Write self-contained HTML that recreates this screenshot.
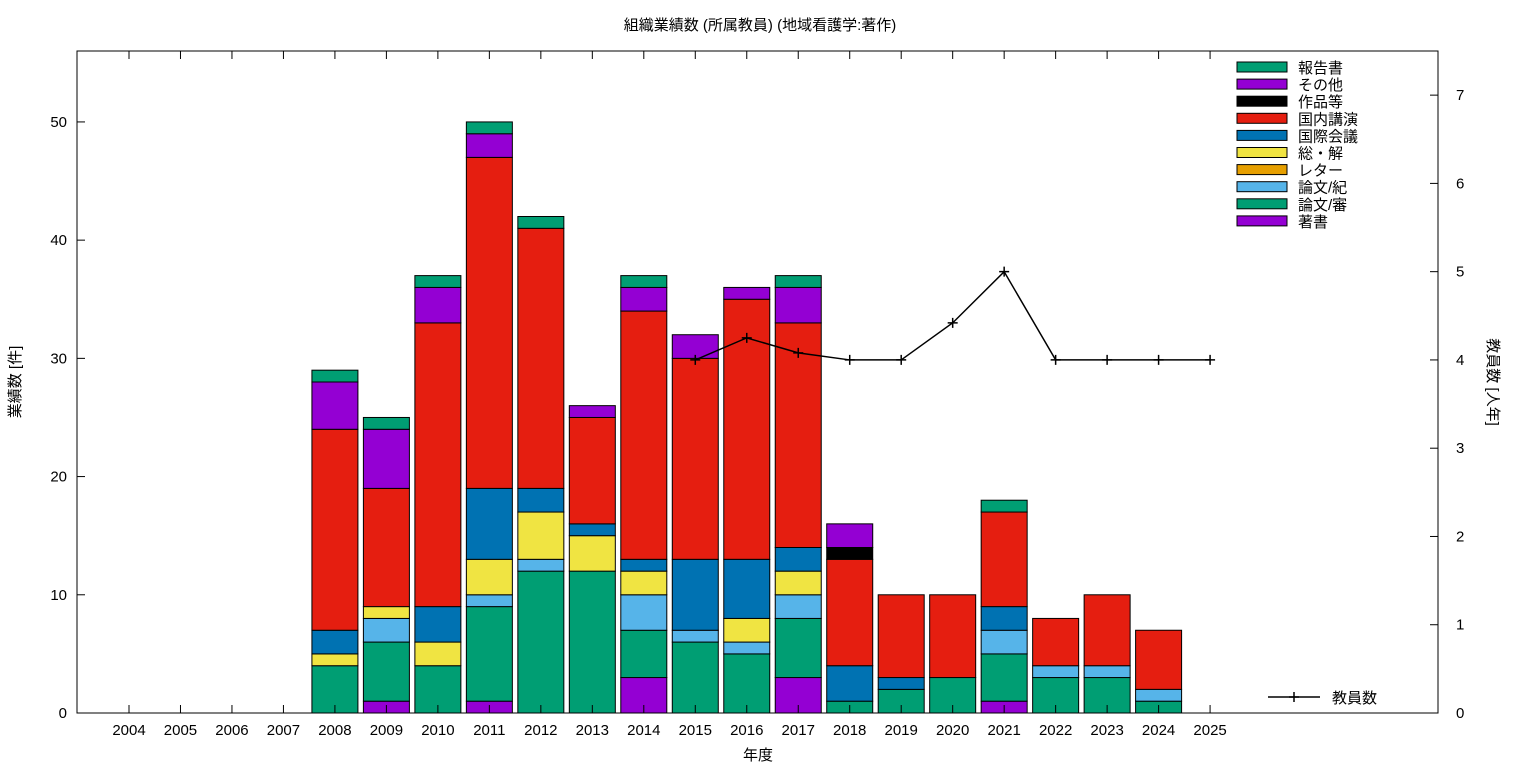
<!DOCTYPE html>
<html><head><meta charset="utf-8"><style>
body{margin:0;background:#fff}
svg text{font-family:"Liberation Sans","Noto Sans CJK JP",sans-serif;fill:#000}
</style></head><body>
<svg id="c" width="1536" height="768" viewBox="0 0 1536 768">
<text x="760" y="30" font-size="15" text-anchor="middle">組織業績数 (所属教員) (地域看護学:著作)</text>
<text x="758" y="760" font-size="15" text-anchor="middle">年度</text>
<text transform="translate(20,382) rotate(-90)" font-size="15" text-anchor="middle">業績数 [件]</text>
<text transform="translate(1488,382) rotate(90)" font-size="15" text-anchor="middle">教員数 [人年]</text>
<g id="bars"></g><g id="axes"></g><g id="legend"></g>
</svg>
<script>
const years=[2004,2005,2006,2007,2008,2009,2010,2011,2012,2013,2014,2015,2016,2017,2018,2019,2020,2021,2022,2023,2024,2025];
const seriesNames=["著書","論文/審","論文/紀","レター","総・解","国際会議","国内講演","作品等","その他","報告書"];
const seriesColors=["#9400d3","#009e73","#56b4e9","#e69f00","#f0e442","#0072b2","#e51e10","#000000","#9400d3","#009e73"];
const chosho=[0,0,0,0,0,1,0,1,0,0,3,0,0,3,0,0,0,1,0,0,0,0];
const shin=[0,0,0,0,4,5,4,8,12,12,4,6,5,5,1,2,3,4,3,3,1,0];
const kiyo=[0,0,0,0,0,2,0,1,1,0,3,1,1,2,0,0,0,2,1,1,1,0];
const letter=[0,0,0,0,0,0,0,0,0,0,0,0,0,0,0,0,0,0,0,0,0,0];
const sokai=[0,0,0,0,1,1,2,3,4,3,2,0,2,2,0,0,0,0,0,0,0,0];
const kokusai=[0,0,0,0,2,0,3,6,2,1,1,6,5,2,3,1,0,2,0,0,0,0];
const kokunai=[0,0,0,0,17,10,24,28,22,9,21,17,22,19,9,7,7,8,4,6,5,0];
const sakuhin=[0,0,0,0,0,0,0,0,0,0,0,0,0,0,1,0,0,0,0,0,0,0];
const sonota=[0,0,0,0,4,5,3,2,0,1,2,2,1,3,2,0,0,0,0,0,0,0];
const hokoku=[0,0,0,0,1,1,1,1,1,0,1,0,0,1,0,0,0,1,0,0,0,0];
const series=[chosho,shin,kiyo,letter,sokai,kokusai,kokunai,sakuhin,sonota,hokoku];
const staffYears=[2015,2016,2017,2018,2019,2020,2021,2022,2023,2024,2025];
const staff=[4,4.25,4.08,4,4,4.42,5,4,4,4,4];
const yTicks=[0,10,20,30,40,50];
const y2Ticks=[0,1,2,3,4,5,6,7];
const L=77,R=1438,T=51,B=713;
const x=i=>129+i*51.48;
const xy=yr=>x(yr-2004);
const y=v=>B-(v/56)*(B-T);
const y2=v=>B-(v/7.5)*(B-T);
const NS="http://www.w3.org/2000/svg";
function mk(tag,attrs,parent){const e=document.createElementNS(NS,tag);for(const k in attrs)e.setAttribute(k,attrs[k]);parent.appendChild(e);return e;}
const bars=document.getElementById('bars'),axes=document.getElementById('axes'),leg=document.getElementById('legend');
const bw=46;
years.forEach((yr,i)=>{let acc=0;series.forEach((s,k)=>{const v=s[i];if(v>0){const r=mk('rect',{x:x(i)-bw/2,y:y(acc+v),width:bw,height:y(acc)-y(acc+v),fill:seriesColors[k],stroke:'#000','stroke-width':1},bars);

}acc+=v;});});
mk('rect',{x:L,y:T,width:R-L,height:B-T,fill:'none',stroke:'#000','stroke-width':1},axes);
years.forEach((yr,i)=>{mk('line',{x1:x(i),x2:x(i),y1:B,y2:B-8,stroke:'#000'},axes);mk('line',{x1:x(i),x2:x(i),y1:T,y2:T+8,stroke:'#000'},axes);
const t=mk('text',{x:x(i),y:B+22,'font-size':15,'text-anchor':'middle'},axes);t.textContent=yr;

});
yTicks.forEach(v=>{mk('line',{x1:L,x2:L+8,y1:y(v),y2:y(v),stroke:'#000'},axes);const t=mk('text',{x:L-10,y:y(v)+5,'font-size':15,'text-anchor':'end'},axes);t.textContent=v;

});
y2Ticks.forEach(v=>{mk('line',{x1:R,x2:R-8,y1:y2(v),y2:y2(v),stroke:'#000'},axes);const t=mk('text',{x:R+18,y:y2(v)+5,'font-size':15},axes);t.textContent=v;

});
const pts=staffYears.map((yr,i)=>xy(yr)+','+y2(staff[i])).join(' ');
const pl=mk('polyline',{points:pts,fill:'none',stroke:'#000','stroke-width':1.5},axes);


staffYears.forEach((yr,i)=>{const cx=xy(yr),cy=y2(staff[i]);mk('path',{d:`M${cx-5},${cy}H${cx+5}M${cx},${cy-5}V${cy+5}`,stroke:'#000','stroke-width':1.5},axes);});
for(let j=0;j<10;j++){const k=9-j;const yy=67+j*17.1;
const r=mk('rect',{x:1237,y:yy-5,width:50,height:10,fill:seriesColors[k],stroke:'#000'},leg);


const t=mk('text',{x:1298,y:yy+6,'font-size':15},leg);t.textContent=seriesNames[k];

}
mk('line',{x1:1268,x2:1320,y1:697,y2:697,stroke:'#000','stroke-width':1.5},leg);
mk('path',{d:'M1289,697H1299M1294,692V702',stroke:'#000','stroke-width':1.5},leg);
const lt=mk('text',{x:1332,y:703,'font-size':15},leg);lt.textContent='教員数';


</script>
</body></html>
